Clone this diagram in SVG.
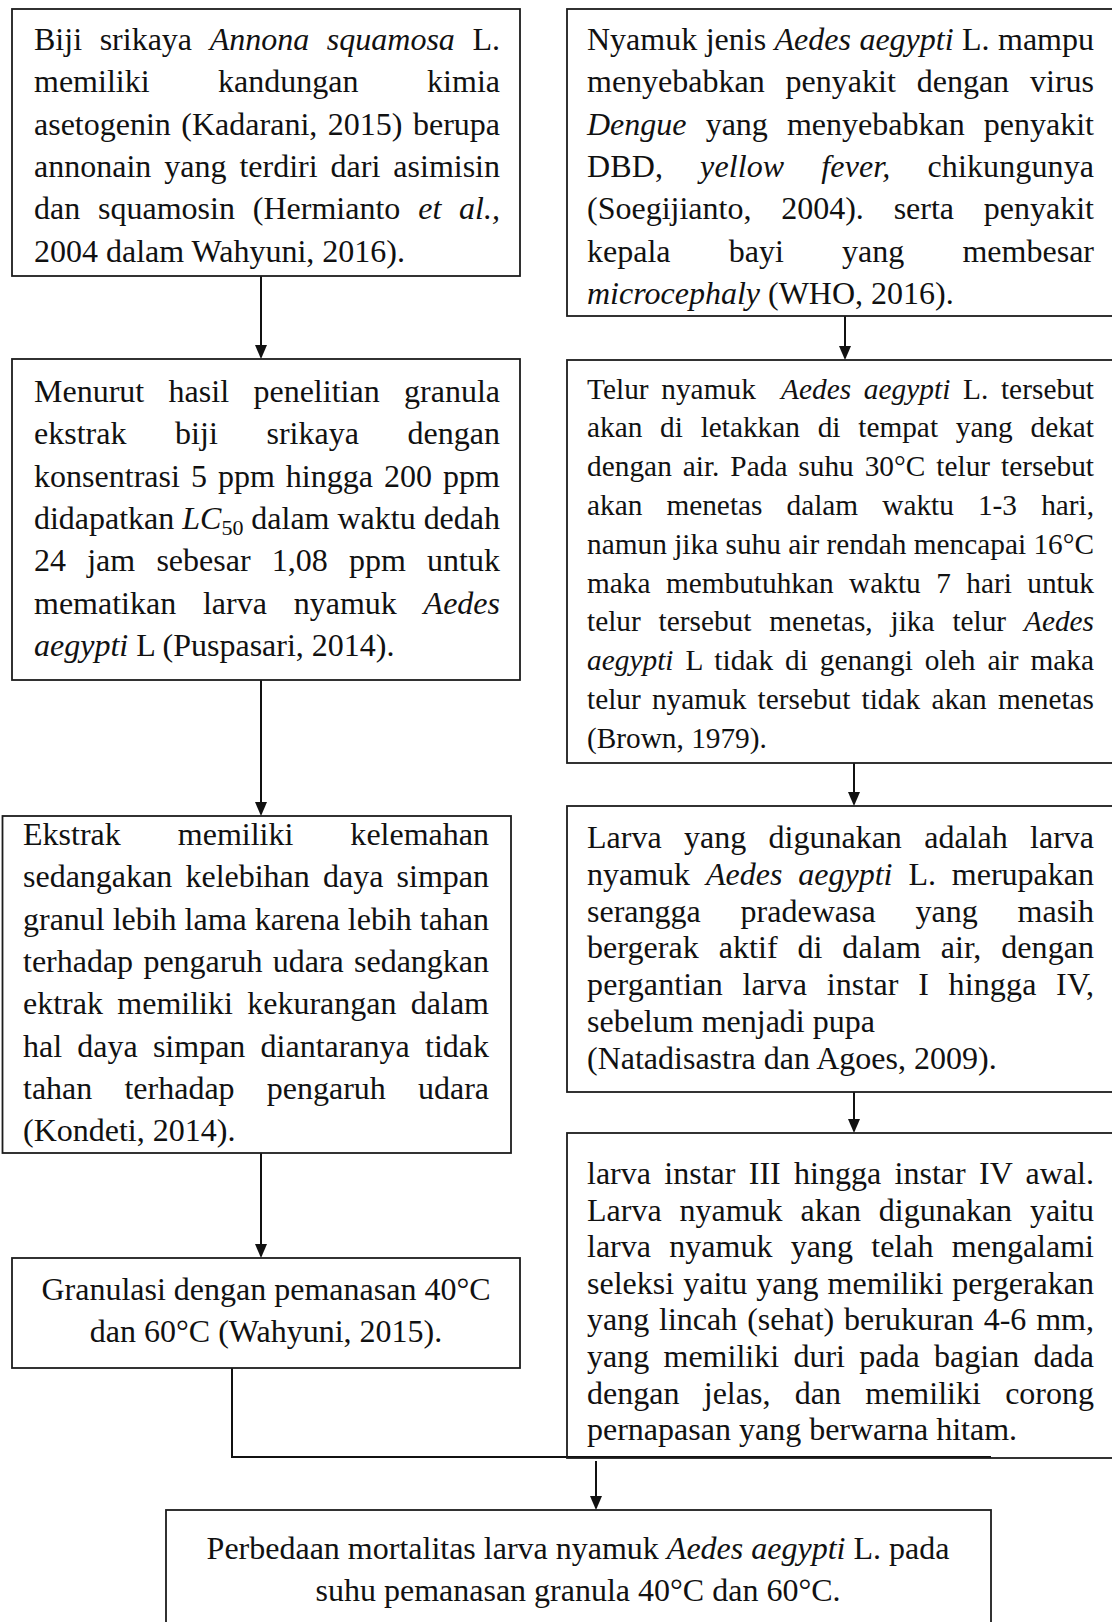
<svg xmlns="http://www.w3.org/2000/svg" width="1112" height="1622" viewBox="0 0 1112 1622">
<style>
.box{fill:none;stroke:#1c1c1c;stroke-width:1.8}
.t{font-family:"Liberation Serif","Times New Roman",serif;font-size:32px;fill:#111}
.s{font-size:29.3px}
.i{font-style:italic}
.c{text-anchor:middle}
.conn{stroke:#111;stroke-width:2;fill:none}
</style>
<defs>
<marker id="ah" markerUnits="userSpaceOnUse" markerWidth="14" markerHeight="12" refX="4" refY="6" orient="auto">
<path d="M0,0 L14,6 L0,12 z" fill="#111"/>
</marker>
</defs>
<rect width="1112" height="1622" fill="#ffffff"/>

<g id="connectors">
<line class="conn" x1="261" y1="276" x2="261" y2="349" marker-end="url(#ah)"/>
<line class="conn" x1="261" y1="680" x2="261" y2="806" marker-end="url(#ah)"/>
<line class="conn" x1="261" y1="1153" x2="261" y2="1248" marker-end="url(#ah)"/>
<polyline class="conn" points="232,1368 232,1457 991,1457"/>
<line class="conn" x1="845" y1="316" x2="845" y2="350" marker-end="url(#ah)"/>
<line class="conn" x1="854" y1="763" x2="854" y2="796" marker-end="url(#ah)"/>
<line class="conn" x1="854" y1="1092" x2="854" y2="1123" marker-end="url(#ah)"/>
<line class="conn" x1="596" y1="1461" x2="596" y2="1500" marker-end="url(#ah)"/>
</g>

<g id="node-biji">
<rect class="box" x="12" y="9" width="508" height="267"/>
<text class="t" x="34" y="50" textLength="466" lengthAdjust="spacing" word-spacing="9.6">Biji srikaya <tspan class="i">Annona squamosa</tspan> L.</text>
<text class="t" x="34" y="92.3" textLength="466" lengthAdjust="spacing" word-spacing="60.5">memiliki kandungan kimia</text>
<text class="t" x="34" y="134.6" textLength="466" lengthAdjust="spacing" word-spacing="2.5">asetogenin (Kadarani, 2015) berupa</text>
<text class="t" x="34" y="176.9" textLength="466" lengthAdjust="spacing" word-spacing="5">annonain yang terdiri dari asimisin</text>
<text class="t" x="34" y="219.2" textLength="466" lengthAdjust="spacing" word-spacing="9.8">dan squamosin (Hermianto <tspan class="i">et al.,</tspan></text>
<text class="t" x="34" y="261.5">2004 dalam Wahyuni, 2016).</text>
</g>

<g id="node-menurut">
<rect class="box" x="12" y="359" width="508" height="321"/>
<text class="t" x="34" y="402" textLength="466" lengthAdjust="spacing" word-spacing="16.4">Menurut hasil penelitian granula</text>
<text class="t" x="34" y="444.3" textLength="466" lengthAdjust="spacing" word-spacing="40.7">ekstrak biji srikaya dengan</text>
<text class="t" x="34" y="486.6" textLength="466" lengthAdjust="spacing" word-spacing="3">konsentrasi 5 ppm hingga 200 ppm</text>
<text class="t" x="34" y="528.9" textLength="466" lengthAdjust="spacing">didapatkan <tspan class="i">LC</tspan><tspan font-size="22" dy="6">50</tspan><tspan dy="-6"> dalam waktu dedah</tspan></text>
<text class="t" x="34" y="571.2" textLength="466" lengthAdjust="spacing" word-spacing="13.2">24 jam sebesar 1,08 ppm untuk</text>
<text class="t" x="34" y="613.5" textLength="466" lengthAdjust="spacing" word-spacing="18.8">mematikan larva nyamuk <tspan class="i">Aedes</tspan></text>
<text class="t" x="34" y="655.8"><tspan class="i">aegypti</tspan> L (Puspasari, 2014).</text>
</g>

<g id="node-ekstrak">
<rect class="box" x="2.5" y="816" width="508.5" height="337"/>
<text class="t" x="23" y="845" textLength="466" lengthAdjust="spacing" word-spacing="49">Ekstrak memiliki kelemahan</text>
<text class="t" x="23" y="887.3" textLength="466" lengthAdjust="spacing" word-spacing="5.2">sedangakan kelebihan daya simpan</text>
<text class="t" x="23" y="929.6" textLength="466" lengthAdjust="spacing">granul lebih lama karena lebih tahan</text>
<text class="t" x="23" y="971.9" textLength="466" lengthAdjust="spacing" word-spacing="2.3">terhadap pengaruh udara sedangkan</text>
<text class="t" x="23" y="1014.2" textLength="466" lengthAdjust="spacing" word-spacing="6.3">ektrak memiliki kekurangan dalam</text>
<text class="t" x="23" y="1056.5" textLength="466" lengthAdjust="spacing" word-spacing="7.2">hal daya simpan diantaranya tidak</text>
<text class="t" x="23" y="1098.8" textLength="466" lengthAdjust="spacing" word-spacing="24.1">tahan terhadap pengaruh udara</text>
<text class="t" x="23" y="1141.1">(Kondeti, 2014).</text>
</g>

<g id="node-granulasi">
<rect class="box" x="12" y="1258" width="508" height="110"/>
<text class="t c" x="266" y="1300">Granulasi dengan pemanasan 40°C</text>
<text class="t c" x="266" y="1342">dan 60°C (Wahyuni, 2015).</text>
</g>

<g id="node-nyamuk">
<rect class="box" x="567" y="9" width="560" height="307"/>
<text class="t" x="587" y="50" textLength="507" lengthAdjust="spacing" word-spacing="0.4">Nyamuk jenis <tspan class="i">Aedes aegypti</tspan> L. mampu</text>
<text class="t" x="587" y="92.3" textLength="507" lengthAdjust="spacing" word-spacing="12.9">menyebabkan penyakit dengan virus</text>
<text class="t" x="587" y="134.6" textLength="507" lengthAdjust="spacing" word-spacing="11.1"><tspan class="i">Dengue</tspan> yang menyebabkan penyakit</text>
<text class="t" x="587" y="176.9" textLength="507" lengthAdjust="spacing" word-spacing="28.9">DBD, <tspan class="i">yellow fever,</tspan> chikungunya</text>
<text class="t" x="587" y="219.2" textLength="507" lengthAdjust="spacing" word-spacing="21.8">(Soegijianto, 2004). serta penyakit</text>
<text class="t" x="587" y="261.5" textLength="507" lengthAdjust="spacing" word-spacing="50.2">kepala bayi yang membesar</text>
<text class="t" x="587" y="303.8"><tspan class="i">microcephaly</tspan> (WHO, 2016).</text>
</g>

<g id="node-telur">
<rect class="box" x="567" y="360" width="560" height="403"/>
<text class="t s" x="587" y="398.5" textLength="507" lengthAdjust="spacing" word-spacing="5.2">Telur nyamuk&#160; <tspan class="i">Aedes aegypti</tspan> L. tersebut</text>
<text class="t s" x="587" y="437.3" textLength="507" lengthAdjust="spacing" word-spacing="10.4">akan di letakkan di tempat yang dekat</text>
<text class="t s" x="587" y="476.1" textLength="507" lengthAdjust="spacing" word-spacing="3.5">dengan air. Pada suhu 30°C telur tersebut</text>
<text class="t s" x="587" y="514.9" textLength="507" lengthAdjust="spacing" word-spacing="16.8">akan menetas dalam waktu 1-3 hari,</text>
<text class="t s" x="587" y="553.7" textLength="507" lengthAdjust="spacing">namun jika suhu air rendah mencapai 16°C</text>
<text class="t s" x="587" y="592.5" textLength="507" lengthAdjust="spacing" word-spacing="8.1">maka membutuhkan waktu 7 hari untuk</text>
<text class="t s" x="587" y="631.3" textLength="507" lengthAdjust="spacing" word-spacing="10.6">telur tersebut menetas, jika telur <tspan class="i">Aedes</tspan></text>
<text class="t s" x="587" y="670.1" textLength="507" lengthAdjust="spacing" word-spacing="4.6"><tspan class="i">aegypti</tspan> L tidak di genangi oleh air maka</text>
<text class="t s" x="587" y="708.9" textLength="507" lengthAdjust="spacing" word-spacing="3.9">telur nyamuk tersebut tidak akan menetas</text>
<text class="t s" x="587" y="747.7">(Brown, 1979).</text>
</g>

<g id="node-larva">
<rect class="box" x="567" y="806" width="560" height="286"/>
<text class="t" x="587" y="848" textLength="507" lengthAdjust="spacing" word-spacing="14.3">Larva yang digunakan adalah larva</text>
<text class="t" x="587" y="884.8" textLength="507" lengthAdjust="spacing" word-spacing="7.9">nyamuk <tspan class="i">Aedes aegypti</tspan> L. merupakan</text>
<text class="t" x="587" y="921.6" textLength="507" lengthAdjust="spacing" word-spacing="31.9">serangga pradewasa yang masih</text>
<text class="t" x="587" y="958.4" textLength="507" lengthAdjust="spacing" word-spacing="11.8">bergerak aktif di dalam air, dengan</text>
<text class="t" x="587" y="995.2" textLength="507" lengthAdjust="spacing" word-spacing="11.5">pergantian larva instar I hingga IV,</text>
<text class="t" x="587" y="1032">sebelum menjadi pupa</text>
<text class="t" x="587" y="1068.8">(Natadisastra dan Agoes, 2009).</text>
</g>

<g id="node-instar">
<rect class="box" x="567" y="1133" width="560" height="325"/>
<text class="t" x="587" y="1184" textLength="507" lengthAdjust="spacing" word-spacing="5.3">larva instar III hingga instar IV awal.</text>
<text class="t" x="587" y="1220.6" textLength="507" lengthAdjust="spacing" word-spacing="9.9">Larva nyamuk akan digunakan yaitu</text>
<text class="t" x="587" y="1257.2" textLength="507" lengthAdjust="spacing" word-spacing="10.3">larva nyamuk yang telah mengalami</text>
<text class="t" x="587" y="1293.8" textLength="507" lengthAdjust="spacing" word-spacing="1">seleksi yaitu yang memiliki pergerakan</text>
<text class="t" x="587" y="1330.4" textLength="507" lengthAdjust="spacing" word-spacing="1.9">yang lincah (sehat) berukuran 4-6 mm,</text>
<text class="t" x="587" y="1367" textLength="507" lengthAdjust="spacing" word-spacing="6.3">yang memiliki duri pada bagian dada</text>
<text class="t" x="587" y="1403.6" textLength="507" lengthAdjust="spacing" word-spacing="16.3">dengan jelas, dan memiliki corong</text>
<text class="t" x="587" y="1440.2">pernapasan yang berwarna hitam.</text>
</g>

<g id="node-perbedaan">
<rect class="box" x="166" y="1510" width="825" height="130"/>
<text class="t c" x="578" y="1559">Perbedaan mortalitas larva nyamuk <tspan class="i">Aedes aegypti</tspan> L. pada</text>
<text class="t c" x="578" y="1601">suhu pemanasan granula 40°C dan 60°C.</text>
</g>
</svg>
